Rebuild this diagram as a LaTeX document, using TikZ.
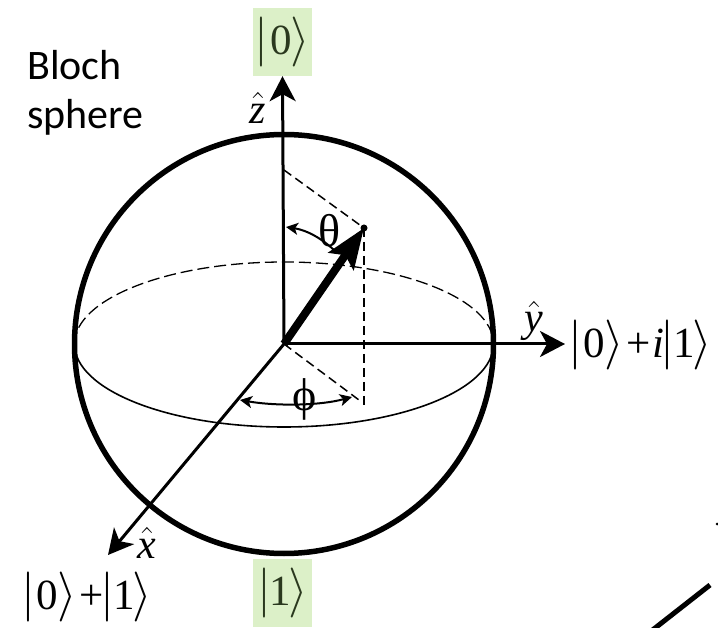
\documentclass[tikz,border=0pt]{standalone}
\usepackage{fix-cm}
\usepackage{amsmath}
\usepackage{fontspec}
\setmainfont{Liberation Serif}
\newfontfamily\blochfont{Carlito}
\usepackage{xcolor}
\usetikzlibrary{positioning, arrows.meta, calc}
\definecolor{kgreen}{RGB}{220,240,200}
\definecolor{kdark}{RGB}{42,56,30}
\newcommand{\kbig}{\fontsize{50}{50}\selectfont}
\newcommand{\ketlab}[1]{{\kbig$|$}\kern1.5pt#1{\kbig\kern-1pt$\rangle$}}
\newcommand{\ketone}{{\kbig$|$}\kern-1pt 1\kern-3pt{\kbig$\rangle$}}
\newcommand{\kfont}{\fontsize{43}{50}\selectfont}
\newcommand{\hfont}{\fontsize{42}{42}\selectfont}

\begin{document}
\begin{tikzpicture}[x=1pt, y=-1pt,
        ket/.style={inner sep=0pt, font=\kfont},
        kbox/.style={fill=kgreen, text=kdark, minimum width=59pt, minimum height=68pt, inner sep=0pt, font=\kfont},
        hatlab/.style={inner sep=0pt, font=\hfont},
        anglab/.style={inner sep=0pt, font=\fontsize{46}{46}\selectfont},
        axis/.style={-{Stealth[length=25pt, width=26pt, inset=7pt]}, line width=3pt},
        guide/.style={dash pattern=on 9pt off 5pt, line width=1.5pt},
        swing/.style={line width=2pt}]
      \useasboundingbox (0,0) rectangle (718,628);
      \coordinate (o) at (284,344);
      \coordinate (tip) at (364,228);
      \coordinate (xend) at (108,555);
      \coordinate (yend) at (565,344);
      \coordinate (zfoot) at (284,170);
      \coordinate (yfoot) at (364,405);
      \coordinate (xfoot) at (359,400);

      \node[kbox] (k0) at (282.5,42) {\raisebox{-3pt}{\ketlab{0}}};
      \node[kbox] (k1) at (282.5,593) {\raisebox{-3pt}{\ketone}};
      \node[ket, anchor=west] (ky) at (568,345) {\ketlab{0}\kern3pt+\kern2pt\textit{i}\kern-4pt\ketone};
      \node[ket, anchor=west] (kx) at (21,597) {\ketlab{0}\kern3pt+\kern-3pt\ketone};
      \node[inner sep=0pt, anchor=north west, align=left, font=\blochfont\fontsize{42}{49}\selectfont] (bloch) at (27,50) {Bloch\\sphere};

      \node[hatlab] (zh) at (258,108) {$\hat{\textit{z}}$};
      \node[hatlab] (yh) at (534,321) {$\hat{\textit{y}}$};
      \node[hatlab] (xh) at (147,543) {$\hat{\textit{x}}$};
      \node[anglab] (th) at (330,231) {θ};
      \node[anglab] (ph) at (305,399) {ϕ};

      % sphere and equator
      \draw[line width=5.5pt] (o) circle[radius=209.5];
      \draw[dash pattern=on 12pt off 5pt, line width=1.3pt] (74.5,344) arc[start angle=180, end angle=360, x radius=209.5, y radius=82];
      \draw[line width=1.6pt] (74.5,344) arc[start angle=180, end angle=0, x radius=209.5, y radius=83];

      % axes
      \draw[axis] (o) -- (k0.south);
      \draw[axis] (o) -- (yend);
      \draw[axis] (o) -- (xend);

      % projections
      \draw[guide] (zfoot) -- (tip);
      \draw[guide] (tip) -- (yfoot);
      \draw[guide] (o) -- (xfoot);

      % state vector
      \draw[-{Stealth[length=40pt, width=30pt, inset=7pt]}, line width=8pt] (o) -- (tip);
      \fill (tip) circle[radius=3.5];

      % angles
      \coordinate (thA) at (336,252);
      \coordinate (thB) at (286,227);
      \coordinate (phA) at (240,400);
      \coordinate (phB) at (352,397);
      \draw[swing, -{Stealth[length=12pt, width=12pt, inset=3pt]}] (thA) .. controls (322,238) and (306,230) .. (thB);
      \draw[swing, {Stealth[length=12pt, width=12pt, inset=3pt]}-{Stealth[length=12pt, width=12pt, inset=3pt]}] (phA) .. controls (275,406) and (318,406) .. (phB);

      % stray marks at the corner
      \fill (717,524) circle[radius=1.5];
      \draw[line width=5pt] (710,585) -- (650,632);
    \end{tikzpicture}
\end{document}
